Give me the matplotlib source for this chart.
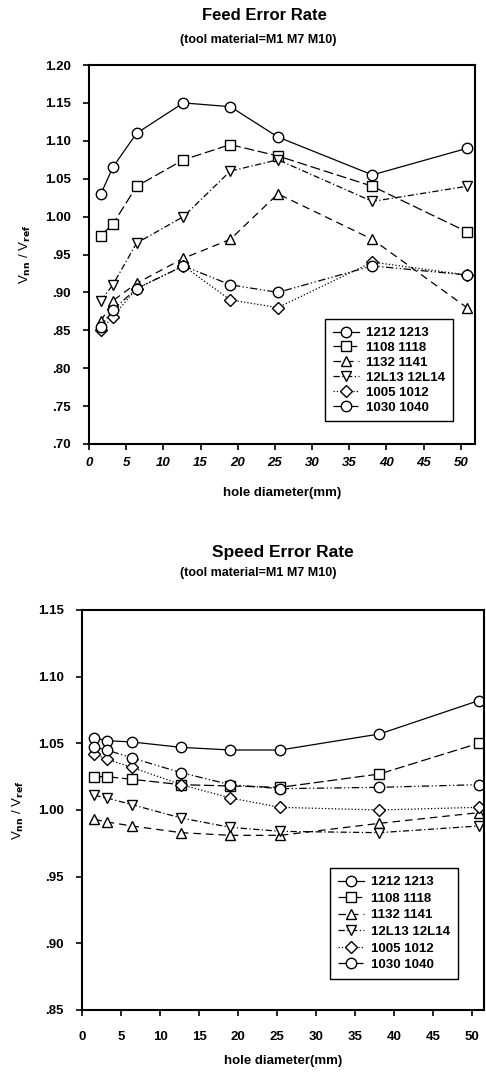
import matplotlib.pyplot as plt

plt.rcParams['font.family'] = ['Liberation Sans', 'DejaVu Sans']
plt.rcParams['font.weight'] = 'bold'
plt.rcParams['mathtext.default'] = 'bf'

# hole diameters (mm)
hole_d = [1.6, 3.2, 6.4, 12.7, 19.0, 25.4, 38.1, 50.8]
labels = ['1212 1213', '1108 1118', '1132 1141', '12L13 12L14', '1005 1012', '1030 1040']

# feed error rate
feed_1212 = [1.030, 1.065, 1.110, 1.150, 1.145, 1.105, 1.055, 1.090]
feed_1108 = [0.975, 0.990, 1.040, 1.075, 1.095, 1.080, 1.040, 0.980]
feed_1132 = [0.862, 0.889, 0.912, 0.945, 0.970, 1.030, 0.970, 0.880]
feed_12L13 = [0.889, 0.910, 0.965, 1.000, 1.060, 1.075, 1.020, 1.040]
feed_1005 = [0.850, 0.868, 0.905, 0.935, 0.890, 0.880, 0.940, 0.923]
feed_1030 = [0.855, 0.877, 0.905, 0.935, 0.910, 0.900, 0.935, 0.923]

# speed error rate
speed_1212 = [1.054, 1.052, 1.051, 1.047, 1.045, 1.045, 1.057, 1.082]
speed_1108 = [1.025, 1.025, 1.023, 1.019, 1.018, 1.017, 1.027, 1.050]
speed_1132 = [0.993, 0.991, 0.988, 0.983, 0.981, 0.981, 0.990, 0.998]
speed_12L13 = [1.011, 1.009, 1.004, 0.994, 0.987, 0.984, 0.983, 0.988]
speed_1005 = [1.042, 1.038, 1.032, 1.019, 1.009, 1.002, 1.000, 1.002]
speed_1030 = [1.047, 1.045, 1.039, 1.028, 1.019, 1.016, 1.017, 1.019]

feed = [feed_1212, feed_1108, feed_1132, feed_12L13, feed_1005, feed_1030]
speed = [speed_1212, speed_1108, speed_1132, speed_12L13, speed_1005, speed_1030]

styles = [
    {'marker': 'o', 'linestyle': '-'},
    {'marker': 's', 'linestyle': (0, (8, 3))},
    {'marker': '^', 'linestyle': (0, (6, 4))},
    {'marker': 'v', 'linestyle': (0, (5, 2, 1, 2))},
    {'marker': 'D', 'linestyle': ':'},
    {'marker': 'o', 'linestyle': (0, (6, 2, 1, 2, 1, 2))},
]


def fmt(v):
    s = '%.2f' % v
    return s[1:] if v < 1 else s


def draw(ax, data, ylim, yticks, xmax, italic_x, xpad, xlpad, leg_anchor, leg_spacing):
    for vals, lab, st in zip(data, labels, styles):
        ms = 6.5 if st['marker'] == 'D' else 7.5
        ax.plot(hole_d, vals, color='black', lw=0.9, marker=st['marker'],
                linestyle=st['linestyle'], markersize=ms,
                markerfacecolor='white', markeredgecolor='black',
                markeredgewidth=1.0, label=lab)
    ax.set_xlim(0, xmax)
    ax.set_ylim(*ylim)
    ax.set_yticks(yticks)
    ax.set_yticklabels([fmt(v) for v in yticks], fontsize=9.5, fontweight='bold')
    xt = list(range(0, 55, 5))
    ax.set_xticks(xt)
    ax.set_xticklabels([str(v) for v in xt], fontsize=9.5, fontweight='bold',
                       style='italic' if italic_x else 'normal')
    ax.tick_params(direction='out', length=4, width=1.2)
    ax.tick_params(axis='y', pad=9)
    ax.tick_params(axis='x', pad=xpad)
    for sp in ax.spines.values():
        sp.set_linewidth(1.5)
    ax.set_xlabel('hole diameter(mm)', fontsize=9.5, fontweight='bold', labelpad=xlpad)
    ax.set_ylabel('V$_{nn}$ / V$_{ref}$', fontsize=9.5, labelpad=9)
    leg = ax.legend(loc='upper left', bbox_to_anchor=leg_anchor,
                    bbox_transform=fig.transFigure, fontsize=9.5,
                    fancybox=False, framealpha=1, edgecolor='black',
                    handlelength=2.0, handletextpad=0.5, borderpad=0.6,
                    labelspacing=leg_spacing, borderaxespad=0)
    leg.get_frame().set_linewidth(1.0)


fig = plt.figure(figsize=(4.86, 10.74), dpi=100)

ax1 = fig.add_axes([89 / 486, 1 - 444 / 1074, 386 / 486, 379 / 1074])
draw(ax1, feed, (0.70, 1.20), [0.70, 0.75, 0.80, 0.85, 0.90, 0.95, 1.00, 1.05, 1.10, 1.15, 1.20],
     51.9, True, 5, 13, (325 / 486, 1 - 319 / 1074), 0.2)
fig.text(264 / 486, 1 - 16 / 1074, 'Feed Error Rate', ha='center', va='center',
         fontsize=12, fontweight='bold')
fig.text(258 / 486, 1 - 40 / 1074, '(tool material=M1 M7 M10)', ha='center',
         va='center', fontsize=9, fontweight='bold')

ax2 = fig.add_axes([82 / 486, 1 - 1010 / 1074, 402 / 486, 400 / 1074])
draw(ax2, speed, (0.85, 1.15), [0.85, 0.90, 0.95, 1.00, 1.05, 1.10, 1.15],
     51.5, False, 11, 9, (330 / 486, 1 - 868 / 1074), 0.33)
fig.text(283 / 486, 1 - 553 / 1074, 'Speed Error Rate', ha='center', va='center',
         fontsize=12.5, fontweight='bold')
fig.text(258 / 486, 1 - 573 / 1074, '(tool material=M1 M7 M10)', ha='center',
         va='center', fontsize=9, fontweight='bold')

fig.savefig('out.png', dpi=100)
